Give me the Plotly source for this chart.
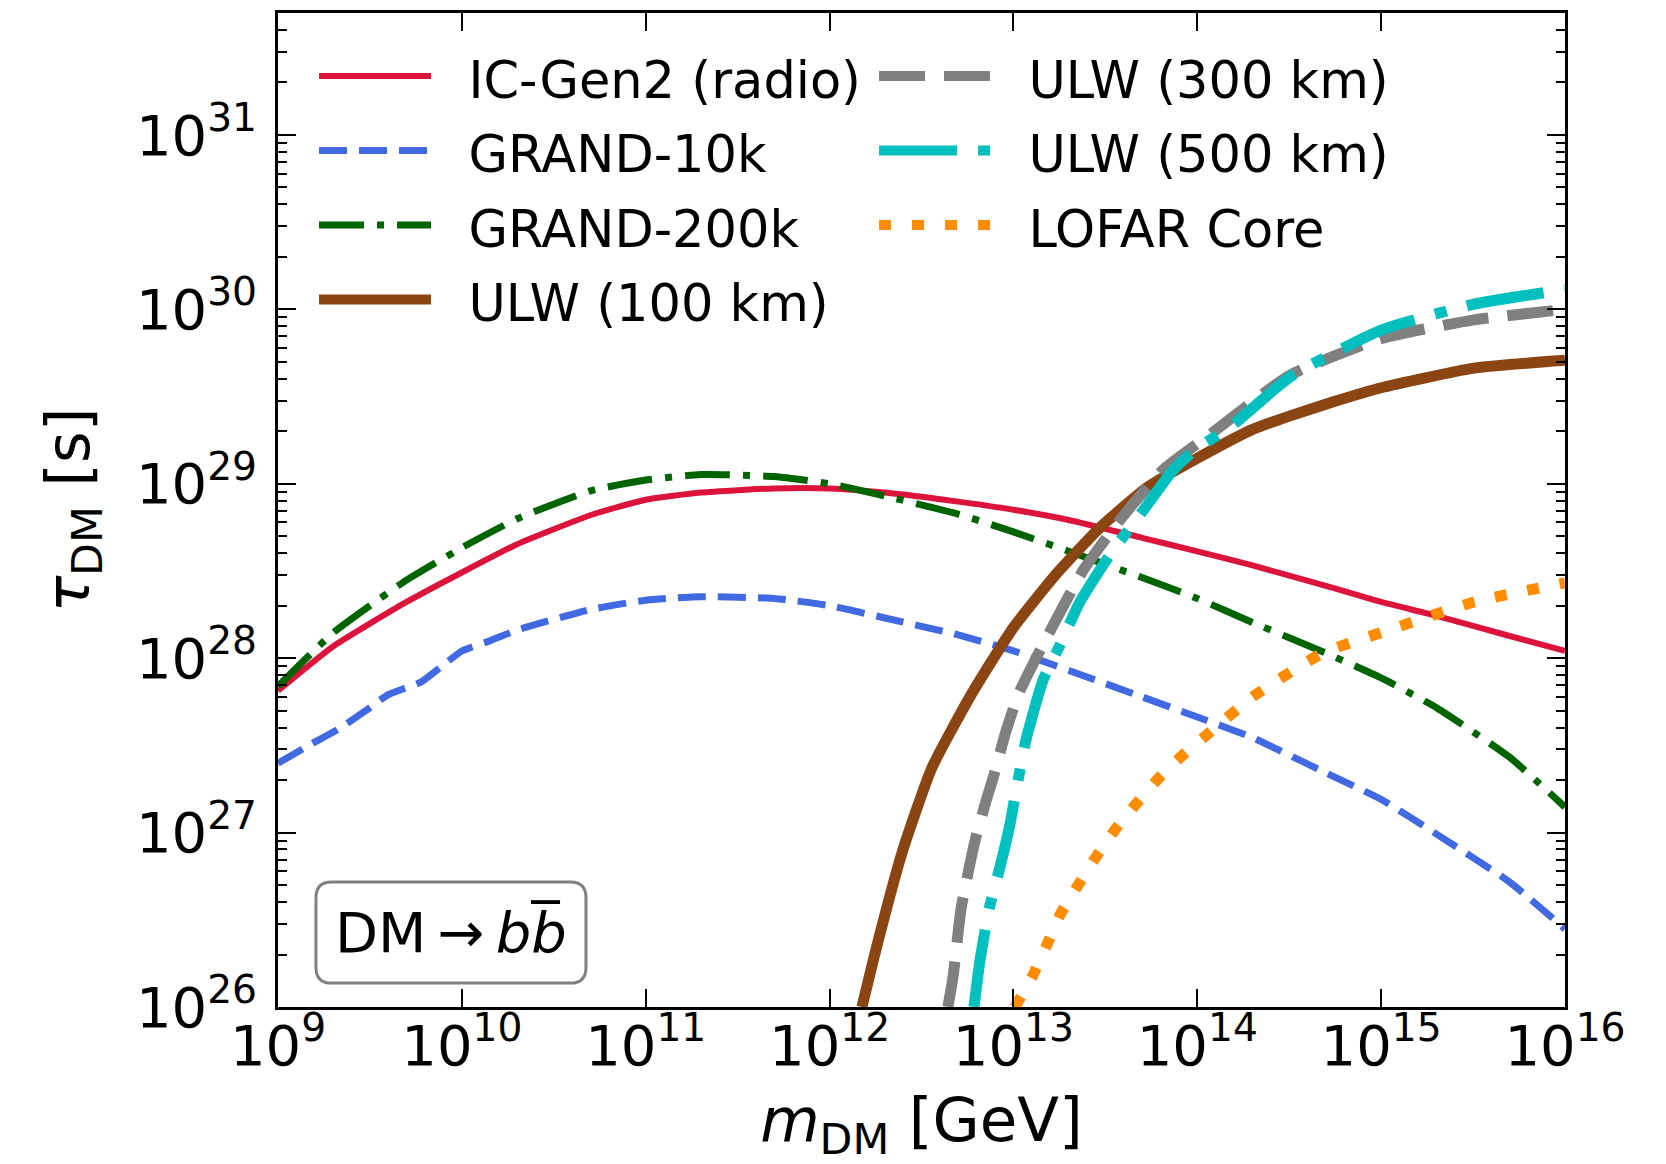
import plotly.graph_objects as go

# ---------------- data ----------------
m_grid = [1e9, 2e9, 5e9, 1e10, 2e10, 5e10, 1e11, 2e11, 5e11, 1e12, 2e12, 5e12,
          1e13, 2e13, 5e13, 1e14, 2e14, 5e14, 1e15, 2e15, 5e15, 1e16]

tau_icgen2 = [6.5e27, 1.17e28, 2.1e28, 3.1e28, 4.5e28, 6.6e28, 8.1e28, 8.9e28, 9.4e28, 9.4e28,
              8.9e28, 7.9e28, 7.1e28, 6.2e28, 4.9e28, 4.1e28, 3.4e28, 2.6e28, 2.1e28, 1.75e28,
              1.34e28, 1.1e28]

tau_grand200k = [6.9e27, 1.4e28, 2.8e28, 4.3e28, 6.3e28, 9.1e28, 1.05e29, 1.13e29, 1.1e29, 1.0e29,
                 8.5e28, 6.7e28, 5.3e28, 4.1e28, 2.9e28, 2.2e28, 1.6e28, 1.07e28, 7.7e27, 5.2e27,
                 2.7e27, 1.4e27]

m_grand10k = [1e9, 1.5e9, 2.2e9, 3e9, 4e9, 6e9, 8e9, 1e10, 1.4e10, 2e10, 5e10, 1e11, 2e11,
              5e11, 1e12, 2e12, 5e12, 1e13, 2e13, 5e13, 1e14, 2e14, 5e14, 1e15, 2e15, 5e15, 1e16]
tau_grand10k = [2.5e27, 3.2e27, 4.0e27, 5.0e27, 6.2e27, 7.3e27, 9.2e27, 1.1e28, 1.25e28, 1.45e28,
                1.9e28, 2.15e28, 2.25e28, 2.2e28, 2.0e28, 1.7e28, 1.36e28, 1.1e28, 8.5e27, 6.0e27,
                4.6e27, 3.5e27, 2.2e27, 1.55e27, 9.8e26, 5.2e26, 2.8e26]

m_ulw100 = [1.5e12, 1.8e12, 2.5e12, 3.6e12, 5.9e12, 1e13, 1.74e13, 2.95e13, 5.4e13,
            1e14, 2e14, 3.2e14, 5.5e14, 1e15, 3.2e15, 1e16]
tau_ulw100 = [1e26, 2.2e26, 7.9e26, 2.35e27, 6.2e27, 1.5e28, 3.1e28, 5.6e28, 9.6e28,
              1.4e29, 2.05e29, 2.45e29, 2.95e29, 3.55e29, 4.6e29, 5.1e29]

m_ulw300 = [4.4e12, 4.7e12, 5.2e12, 6.2e12, 7.2e12, 7.8e12, 9.1e12, 1.07e13, 1.45e13, 2.4e13,
            3.8e13, 6.5e13, 1.2e14, 3.2e14, 1e15, 3.2e15, 1e16]
tau_ulw300 = [1e26, 1.5e26, 3.7e26, 9.1e26, 1.6e27, 2.1e27, 3.8e27, 6.3e27, 1.2e28, 3.2e28,
              6.2e28, 1.2e29, 1.95e29, 4.2e29, 6.8e29, 8.7e29, 1.0e30]

m_ulw500 = [6.1e12, 6.6e12, 7.4e12, 8.5e12, 9.5e12, 1.02e13, 1.17e13, 1.45e13, 1.8e13, 2.3e13,
            3.5e13, 4.5e13, 7.4e13, 1e14, 1.5e14, 3.2e14, 1e15, 3.2e15, 1e16]
tau_ulw500 = [1e26, 1.9e26, 3.7e26, 6.5e26, 1.07e27, 1.6e27, 3.4e27, 7.5e27, 1.2e28, 2.1e28,
              4.2e28, 5.9e28, 1.2e29, 1.6e29, 2.1e29, 4.1e29, 7.6e29, 1.07e30, 1.3e30]

m_lofar = [1.02e13, 1.26e13, 1.5e13, 1.8e13, 2.25e13, 2.8e13, 3.6e13, 4.7e13, 6.3e13, 8.4e13,
           1.15e14, 2e14, 4.8e14, 1e15, 3.2e15, 1e16]
tau_lofar = [1e26, 1.48e26, 2.2e26, 3.4e26, 5.0e26, 7.2e26, 1.05e27, 1.48e27, 2.1e27, 2.8e27,
             3.7e27, 6.0e27, 1.07e28, 1.4e28, 2.1e28, 2.7e28]

x_tick_vals = [1e9, 1e10, 1e11, 1e12, 1e13, 1e14, 1e15, 1e16]
x_tick_text = ["10<sup>9</sup>", "10<sup>10</sup>", "10<sup>11</sup>", "10<sup>12</sup>",
               "10<sup>13</sup>", "10<sup>14</sup>", "10<sup>15</sup>", "10<sup>16</sup>"]
y_tick_vals = [1e26, 1e27, 1e28, 1e29, 1e30, 1e31]
y_tick_text = ["10<sup>26</sup>", "10<sup>27</sup>", "10<sup>28</sup>", "10<sup>29</sup>",
               "10<sup>30</sup>", "10<sup>31</sup>"]

FONT = "DejaVu Sans"
NB = "\u00a0\u00a0"

fig = go.Figure()

series = [
    ("IC-Gen2 (radio)", m_grid, tau_icgen2, "#DC143C", 6, "solid", 1),
    ("GRAND-10k", m_grand10k, tau_grand10k, "#4169E1", 7, "28px,12px", 3),
    ("GRAND-200k", m_grid, tau_grand200k, "#006400", 7, "45px,13px,7px,13px", 5),
    ("ULW (100 km)", m_ulw100, tau_ulw100, "#8B4513", 11, "solid", 7),
    ("ULW (300 km)", m_ulw300, tau_ulw300, "#808080", 11, "46px,19px", 2),
    ("ULW (500 km)", m_ulw500, tau_ulw500, "#00BFBF", 11, "78px,21px,12px,21px", 4),
    ("LOFAR Core", m_lofar, tau_lofar, "#FF8C00", 11, "12px,21px", 6),
]

for name, xs, ys, color, width, dash, rank in series:
    fig.add_trace(go.Scatter(
        x=xs, y=ys, mode="lines", legendrank=rank,
        name=f'<span style="font-size:51px">{NB}{name}</span>',
        line=dict(color=color, width=width, dash=dash, shape="spline", smoothing=0.5),
    ))

axis_common = dict(
    type="log",
    showline=True, linecolor="black", linewidth=2.5, mirror="allticks",
    ticks="inside", ticklen=18, tickwidth=2.2, tickcolor="black",
    showgrid=False, zeroline=False, tickangle=0,
    tickfont=dict(family=FONT, size=56, color="black"),
)

fig.update_xaxes(
    **axis_common,
    range=[9, 16], tickvals=x_tick_vals, ticktext=x_tick_text, ticklabelstandoff=-12,
    title=dict(text="<i>m</i><sub>DM</sub>\u00a0[GeV]", font=dict(family=FONT, size=61, color="black"),
               standoff=34),
)
fig.update_yaxes(
    **axis_common,
    range=[26, 31.699], tickvals=y_tick_vals, ticktext=y_tick_text, ticklabelstandoff=7,
    minor=dict(ticks="inside", ticklen=9, tickwidth=2, tickcolor="black", dtick="D1"),
    title=dict(text="<i>τ</i><sub>DM</sub>\u00a0[s]", font=dict(family=FONT, size=61, color="black"),
               standoff=27),
)

# annotation box (rounded rectangle)
bx0, bx1, by0, by1 = 0.0295, 0.2393, 0.0241, 0.1258
rx, ry = 0.012, 0.016
path = (f"M {bx0+rx},{by0} L {bx1-rx},{by0} Q {bx1},{by0} {bx1},{by0+ry} "
        f"L {bx1},{by1-ry} Q {bx1},{by1} {bx1-rx},{by1} L {bx0+rx},{by1} "
        f"Q {bx0},{by1} {bx0},{by1-ry} L {bx0},{by0+ry} Q {bx0},{by0} {bx0+rx},{by0} Z")
fig.add_shape(type="path", path=path, xref="paper", yref="paper",
              line=dict(color="#808080", width=3), fillcolor="white", layer="above")
fig.add_annotation(x=(bx0 + bx1) / 2, y=(by0 + by1) / 2, xref="paper", yref="paper",
                   xanchor="center", yanchor="middle",
                   text="DM\u2009→\u2009<i>b</i><i>b\u0305</i>", showarrow=False,
                   font=dict(family=FONT, size=56, color="black"))

fig.update_layout(
    width=1666, height=1164,
    margin=dict(l=278, r=101, t=13, b=157, autoexpand=False),
    paper_bgcolor="white", plot_bgcolor="white",
    font=dict(family=FONT, color="black"),
    showlegend=True,
    legend=dict(
        orientation="h", x=0.028, y=0.979, xanchor="left", yanchor="top",
        bgcolor="rgba(0,0,0,0)", borderwidth=0,
        font=dict(family=FONT, size=55, color="black"),
        itemwidth=112, entrywidth=433, entrywidthmode="pixels",
        traceorder="normal", tracegroupgap=0,
    ),
)

fig.write_html("out.html", post_script="document.body.style.margin='0';",
               config={"displayModeBar": False})
